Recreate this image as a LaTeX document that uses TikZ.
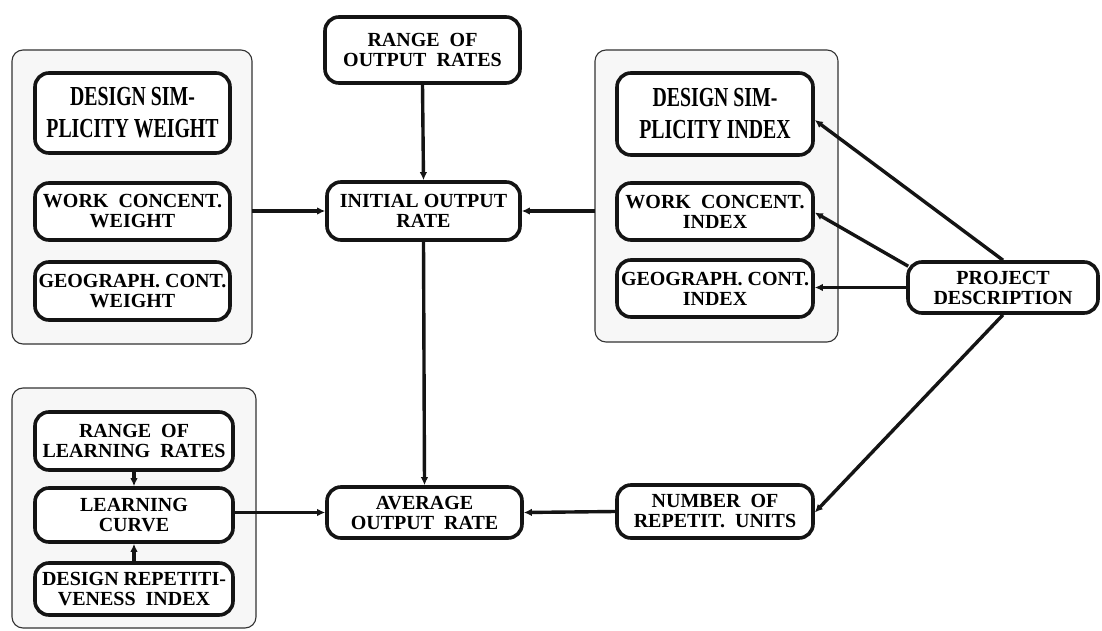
\documentclass[tikz,border=0pt]{standalone}
\usepackage{fontspec}
\setmainfont{Liberation Serif}
\newfontfamily\condserif{Liberation Serif}[FakeStretch=0.72]
\usetikzlibrary{arrows.meta}

\begin{document}
\begin{tikzpicture}[x=1pt,y=-1pt,
  box/.style={draw=black!92, line width=3.6pt, rounded corners=14pt, fill=white,
    align=center, inner sep=0pt, minimum width=195pt,
    font=\bfseries\fontsize{20}{20}\selectfont},
  bigbox/.style={box, font=\condserif\bfseries\fontsize{27.5}{32}\selectfont},
  group/.style={draw=black!80, line width=1.1pt, rounded corners=11pt, fill=gray!6},
  link/.style={draw=black!92, line width=3.4pt,
    -{Latex[length=8pt,width=7.5pt]}}]

\useasboundingbox (0,0) rectangle (1102,631);
\fill[white] (0,0) rectangle (1102,631);

% grouping panels
\draw[group] (12,50) rectangle (252,344);
\node[inner sep=0pt, minimum width=240pt, minimum height=294pt] (gTL) at (132,197) {};
\draw[group] (595,50) rectangle (838,342);
\node[inner sep=0pt, minimum width=243pt, minimum height=292pt] (gTR) at (716.5,196) {};
\draw[group] (12,388) rectangle (256,628);
\node[inner sep=0pt, minimum width=244pt, minimum height=240pt] (gBL) at (134,508) {};

% weights
\node[bigbox, minimum height=80pt] (dsw) at (132.5,113) {DESIGN SIM-\\PLICITY WEIGHT};
\node[box, minimum height=57pt] (wcw) at (132.5,211.5) {WORK\ \ CONCENT.\\WEIGHT};
\node[box, minimum height=58pt] (gcw) at (132.5,291) {GEOGRAPH. CONT.\\WEIGHT};

% output rates
\node[box, minimum height=66pt] (ror) at (422.5,50) {RANGE\ \ OF\\OUTPUT\ \ RATES};
\node[box, minimum width=193pt, minimum height=58pt] (ior) at (423.5,211) {INITIAL OUTPUT\\RATE};
\node[box, minimum height=51pt] (aor) at (424.5,512.5) {AVERAGE\\OUTPUT\ \ RATE};

% indices
\node[bigbox, minimum width=196pt, minimum height=82pt] (dsi) at (715,114) {DESIGN SIM-\\PLICITY INDEX};
\node[box, minimum width=196pt, minimum height=57pt] (wci) at (715,211.5) {WORK\ \ CONCENT.\\INDEX};
\node[box, minimum width=196pt, minimum height=57pt] (gci) at (715,288.5) {GEOGRAPH. CONT.\\INDEX};

\node[box, minimum width=190pt, minimum height=51pt] (proj) at (1003,287.5) {PROJECT\\DESCRIPTION};
\node[box, minimum width=196pt, minimum height=53pt] (nru) at (715,511.5) {NUMBER\ \ OF\\REPETIT.\ \ UNITS};

% learning
\node[box, minimum width=198pt, minimum height=58pt] (rlr) at (134,441) {RANGE\ \ OF\\LEARNING\ \ RATES};
\node[box, minimum width=198pt, minimum height=54pt] (lc) at (134,515) {LEARNING\\CURVE};
\node[box, minimum width=198pt, minimum height=52pt] (dri) at (134,589) {DESIGN REPETITI-\\VENESS\ \ INDEX};

% connectors
\draw[link] (ror.south) -- (ior.north);
\draw[link] (gTL.east |- ior.west) -- (ior.west);
\draw[link] (gTR.west |- ior.east) -- (ior.east);
\draw[link] (ior.south) -- (aor.north);
\draw[link] (lc.east |- aor.west) -- (aor.west);
\draw[link] (nru.west) -- (aor.east);
\draw[link] (rlr.south) -- (lc.north);
\draw[link] (dri.north) -- (lc.south);

\draw[link] (proj.north) -- ([yshift=-6pt]dsi.east);
\draw[link] ([yshift=-6pt,xshift=2pt]proj.north west) -- ([yshift=-1pt]wci.east);
\draw[link] (proj.west) -- (proj.west -| gci.east);
\draw[link] (proj.south) -- ([yshift=-1pt]nru.east);
\end{tikzpicture}
\end{document}
